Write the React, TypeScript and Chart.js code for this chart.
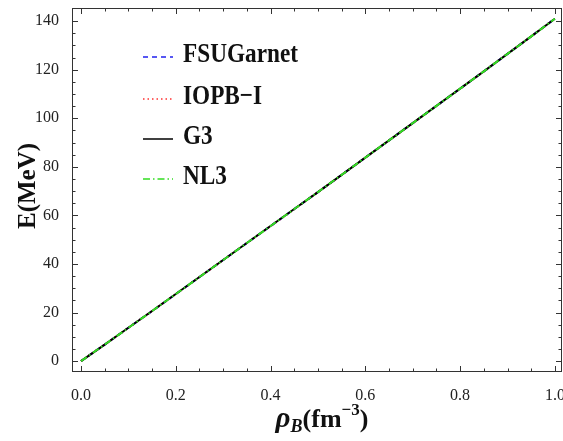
import React, { useEffect, useRef } from "react";
import { Chart, registerables } from "chart.js";

Chart.register(...registerables);

const densities = [0, 0.05, 0.1, 0.15, 0.2, 0.25, 0.3, 0.35, 0.4, 0.45, 0.5, 0.55, 0.6, 0.65, 0.7, 0.75, 0.8, 0.85, 0.9, 0.95, 1.0];
const fsuGarnet = [0, 6.8, 13.7, 20.6, 27.6, 34.6, 41.6, 48.6, 55.6, 62.6, 69.6, 76.7, 83.8, 90.9, 98.0, 105.1, 112.2, 119.3, 126.5, 133.7, 141.0];
const iopbI = [0, 6.8, 13.7, 20.6, 27.6, 34.6, 41.6, 48.6, 55.6, 62.6, 69.6, 76.7, 83.8, 90.9, 98.0, 105.1, 112.2, 119.3, 126.5, 133.7, 141.0];
const g3 = [0, 6.8, 13.7, 20.6, 27.6, 34.6, 41.6, 48.6, 55.6, 62.6, 69.6, 76.7, 83.8, 90.9, 98.0, 105.1, 112.2, 119.3, 126.5, 133.7, 141.0];
const nl3 = [0, 6.8, 13.7, 20.6, 27.6, 34.6, 41.6, 48.6, 55.6, 62.6, 69.6, 76.7, 83.8, 90.9, 98.0, 105.1, 112.2, 119.3, 126.5, 133.7, 141.0];

const seriesNames = ["FSUGarnet", "IOPB\u2212I", "G3", "NL3"];
const seriesColors = ["#2020ee", "#ff3030", "#000000", "#33dd22"];
const seriesDashes: number[][] = [[5, 4], [1.5, 3], [], [7, 3, 1.5, 3]];

const xTickValues = [0, 0.2, 0.4, 0.6, 0.8, 1.0];
const xTickLabels = ["0.0", "0.2", "0.4", "0.6", "0.8", "1.0"];
const yTickValues = [0, 20, 40, 60, 80, 100, 120, 140];
const yTickLabels = ["0", "20", "40", "60", "80", "100", "120", "140"];

const SERIF = "'Times New Roman', 'Liberation Serif', serif";

const framePlugin = {
  id: "framePlugin",
  afterDraw(chart: any) {
    const ctx = chart.ctx;
    const { left, right, top, bottom } = chart.chartArea;
    const xs = chart.scales.x;
    const ys = chart.scales.y;
    ctx.save();
    // frame
    ctx.strokeStyle = "#333";
    ctx.lineWidth = 1;
    ctx.setLineDash([]);
    ctx.strokeRect(left + 0.5, top + 0.5, right - left - 1, bottom - top - 1);
    // ticks
    const majorLen = 6;
    const minorLen = 3.5;
    for (let i = 0; i <= 20; i++) {
      const v = i * 0.05;
      const px = Math.round(xs.getPixelForValue(v)) + 0.5;
      const len = i % 4 === 0 ? majorLen : minorLen;
      ctx.beginPath();
      ctx.moveTo(px, bottom);
      ctx.lineTo(px, bottom - len);
      ctx.moveTo(px, top);
      ctx.lineTo(px, top + len);
      ctx.stroke();
    }
    for (let i = 0; i <= 28; i++) {
      const v = i * 5;
      const py = Math.round(ys.getPixelForValue(v)) + 0.5;
      const len = i % 4 === 0 ? majorLen : minorLen;
      ctx.beginPath();
      ctx.moveTo(left, py);
      ctx.lineTo(left + len, py);
      ctx.moveTo(right, py);
      ctx.lineTo(right - len, py);
      ctx.stroke();
    }
    // legend
    const legendY = [55, 97, 137, 177];
    for (let i = 0; i < seriesNames.length; i++) {
      const y = legendY[i];
      ctx.strokeStyle = seriesColors[i];
      ctx.lineWidth = 1.5;
      ctx.setLineDash(seriesDashes[i]);
      ctx.beginPath();
      ctx.moveTo(143, y + 2);
      ctx.lineTo(173, y + 2);
      ctx.stroke();
      ctx.setLineDash([]);
      ctx.save();
      ctx.translate(183, y);
      ctx.scale(0.93, 1.12);
      ctx.font = `bold 25px ${SERIF}`;
      ctx.textBaseline = "middle";
      ctx.textAlign = "left";
      ctx.fillStyle = "#111";
      ctx.fillText(seriesNames[i], 0, 0);
      ctx.restore();
    }
    // y title
    ctx.save();
    ctx.translate(35, 186);
    ctx.rotate(-Math.PI / 2);
    ctx.font = `bold 25px ${SERIF}`;
    ctx.textAlign = "center";
    ctx.textBaseline = "alphabetic";
    ctx.fillStyle = "#111";
    ctx.fillText("E(MeV)", 0, 0);
    ctx.restore();
    // x title
    const base = 427;
    const parts = [
      { t: "\u03C1", f: `italic bold 29px ${SERIF}`, dy: 0 },
      { t: "B", f: `italic bold 18px ${SERIF}`, dy: 5 },
      { t: "(fm", f: `bold 26px ${SERIF}`, dy: 0 },
      { t: "\u22123", f: `bold 17px ${SERIF}`, dy: -12 },
      { t: ")", f: `bold 26px ${SERIF}`, dy: 0 },
    ];
    let total = 0;
    const widths: number[] = [];
    for (const p of parts) {
      ctx.font = p.f;
      const w = ctx.measureText(p.t).width;
      widths.push(w);
      total += w;
    }
    let x = 322 - total / 2;
    ctx.textAlign = "left";
    ctx.textBaseline = "alphabetic";
    ctx.fillStyle = "#111";
    parts.forEach((p, i) => {
      ctx.font = p.f;
      ctx.fillText(p.t, x, base + p.dy);
      x += widths[i];
    });
    ctx.restore();
  },
};

export default function App() {
  const ref = useRef<HTMLCanvasElement | null>(null);
  useEffect(() => {
    document.body.style.margin = "0";
    if (!ref.current) return;
    const mk = (i: number, data: number[]) => ({
      label: seriesNames[i],
      data: densities.map((d, k) => ({ x: d, y: data[k] })),
      borderColor: seriesColors[i],
      borderDash: seriesDashes[i],
      borderWidth: 2,
      pointRadius: 0,
      tension: 0,
      fill: false,
    });
    const chart = new Chart(ref.current, {
      type: "line",
      data: {
        datasets: [mk(3, nl3), mk(2, g3), mk(1, iopbI), mk(0, fsuGarnet)],
      },
      options: {
        animation: false,
        responsive: false,
        maintainAspectRatio: false,
        layout: { padding: { top: 8, right: 1, left: 0, bottom: 0 } },
        plugins: { legend: { display: false }, tooltip: { enabled: false } },
        scales: {
          x: {
            type: "linear",
            min: -0.019,
            max: 1.015,
            grid: { display: false },
            border: { display: false },
            afterBuildTicks: (s: any) => {
              s.ticks = xTickValues.map((v) => ({ value: v }));
            },
            afterFit: (s: any) => {
              s.height = 69;
              s.paddingLeft = 0;
              s.paddingRight = 0;
            },
            ticks: {
              padding: 6,
              maxRotation: 0,
              autoSkip: false,
              color: "#222",
              font: { family: SERIF, size: 16 },
              callback: (v: any) => {
                const idx = xTickValues.findIndex((t) => Math.abs(t - v) < 1e-9);
                return idx >= 0 ? xTickLabels[idx] : "";
              },
            },
          },
          y: {
            type: "linear",
            min: -4.5,
            max: 145.4,
            grid: { display: false },
            border: { display: false },
            afterBuildTicks: (s: any) => {
              s.ticks = yTickValues.map((v) => ({ value: v }));
            },
            afterFit: (s: any) => {
              s.width = 72;
              s.paddingTop = 0;
              s.paddingBottom = 0;
            },
            ticks: {
              padding: 5,
              autoSkip: false,
              color: "#222",
              font: { family: SERIF, size: 16 },
              callback: (v: any) => {
                const idx = yTickValues.findIndex((t) => Math.abs(t - v) < 1e-9);
                return idx >= 0 ? yTickLabels[idx] : "";
              },
            },
          },
        },
      },
      plugins: [framePlugin],
    } as any);
    return () => chart.destroy();
  }, []);
  return (
    <div style={{ position: "absolute", left: 0, top: 0, width: 563, height: 441, background: "#fff" }}>
      <canvas ref={ref} width={563} height={441} style={{ width: 563, height: 441, display: "block" }} />
    </div>
  );
}
